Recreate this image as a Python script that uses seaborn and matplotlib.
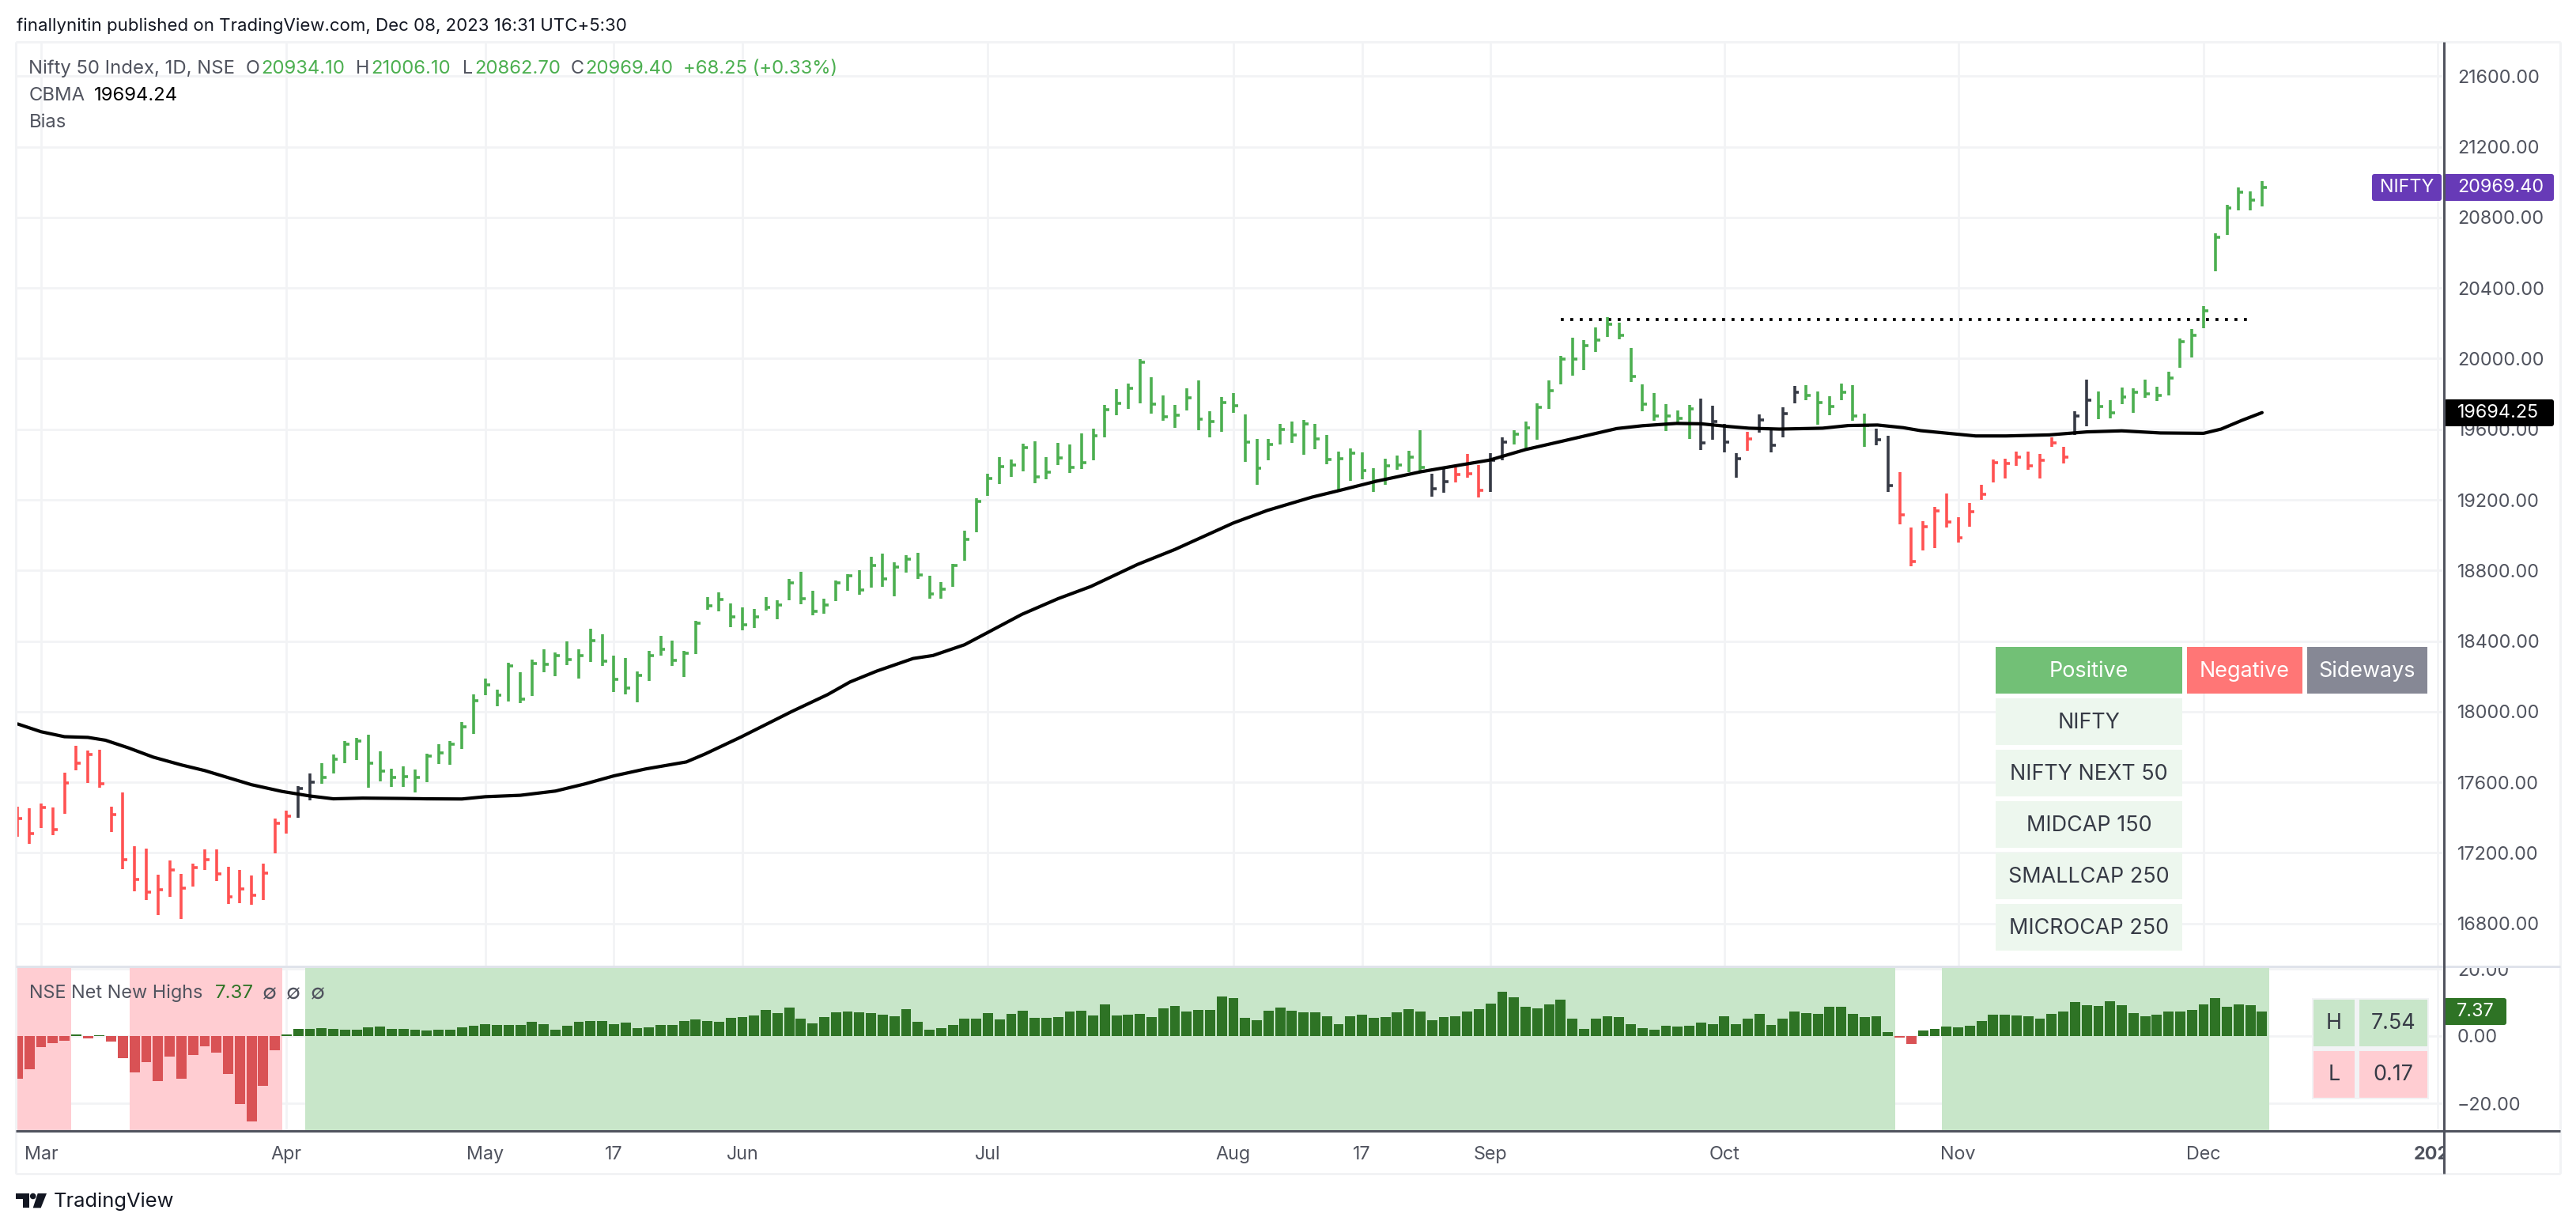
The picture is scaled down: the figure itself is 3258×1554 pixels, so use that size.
import matplotlib
matplotlib.use("Agg")
import matplotlib.pyplot as plt
from matplotlib.patches import Rectangle, FancyBboxPatch, Polygon, Circle
from matplotlib.transforms import Bbox
import numpy as np
import pandas as pd
import seaborn as sns

high = [
    17460, 17452, 17478, 17456, 17656, 17808, 17778, 17782, 17460, 17540,
    17238, 17224, 17078, 17158, 17082, 17140, 17220, 17220, 17122, 17104,
    17072, 17140, 17394, 17438, 17578, 17648, 17706, 17758, 17832, 17852,
    17870, 17776, 17676, 17692, 17674, 17762, 17816, 17832, 17940, 18096,
    18186, 18124, 18278, 18225, 18296, 18354, 18335, 18400, 18351, 18468,
    18440, 18319, 18305, 18228, 18345, 18431, 18404, 18344, 18514, 18651,
    18674, 18615, 18589, 18583, 18651, 18633, 18750, 18791, 18686, 18642,
    18741, 18780, 18803, 18876, 18894, 18848, 18885, 18898, 18768, 18732,
    18839, 19024, 19207, 19350, 19441, 19427, 19517, 19531, 19441, 19522,
    19513, 19576, 19603, 19738, 19828, 19859, 19999, 19895, 19792, 19738,
    19832, 19877, 19702, 19783, 19805, 19684, 19544, 19544, 19630, 19643,
    19652, 19630, 19567, 19472, 19490, 19468, 19378, 19432, 19450, 19477,
    19594, 19346, 19373, 19384, 19459, 19396, 19463, 19553, 19594, 19643,
    19747, 19877, 20017, 20120, 20107, 20179, 20233, 20206, 20062, 19855,
    19805, 19742, 19706, 19738, 19774, 19733, 19630, 19463, 19585, 19684,
    19598, 19724, 19846, 19850, 19814, 19787, 19859, 19850, 19688, 19603,
    19562, 19355, 19045, 19081, 19162, 19238, 19103, 19180, 19283, 19427,
    19432, 19472, 19472, 19459, 19553, 19499, 19702, 19882, 19814, 19765,
    19837, 19832, 19882, 19841, 19927, 20116, 20170, 20300, 20709, 20871,
    20970, 20947, 21006.1,
]
low = [
    17292, 17250, 17340, 17300, 17420, 17666, 17594, 17568, 17318, 17108,
    16984, 16934, 16846, 16952, 16824, 17010, 17104, 17042, 16912, 16916,
    16908, 16934, 17198, 17308, 17400, 17498, 17590, 17648, 17710, 17724,
    17568, 17604, 17572, 17572, 17544, 17602, 17702, 17700, 17790, 17874,
    18092, 18030, 18058, 18047, 18090, 18221, 18203, 18262, 18186, 18280,
    18259, 18109, 18097, 18051, 18173, 18317, 18259, 18195, 18326, 18576,
    18567, 18479, 18459, 18473, 18574, 18525, 18630, 18608, 18548, 18555,
    18626, 18683, 18661, 18701, 18709, 18653, 18786, 18750, 18638, 18638,
    18706, 18853, 19015, 19222, 19290, 19330, 19361, 19294, 19316, 19397,
    19352, 19375, 19424, 19555, 19681, 19717, 19748, 19690, 19649, 19609,
    19708, 19595, 19555, 19586, 19694, 19415, 19285, 19424, 19514, 19523,
    19456, 19487, 19402, 19249, 19307, 19316, 19244, 19285, 19370, 19357,
    19357, 19217, 19240, 19298, 19325, 19213, 19244, 19424, 19514, 19481,
    19541, 19717, 19856, 19904, 19936, 20036, 20122, 20108, 19870, 19703,
    19649, 19591, 19625, 19544, 19481, 19541, 19468, 19324, 19477, 19582,
    19468, 19553, 19747, 19765, 19625, 19679, 19765, 19648, 19499, 19508,
    19247, 19063, 18824, 18914, 18928, 19045, 18959, 19049, 19198, 19297,
    19320, 19391, 19369, 19320, 19499, 19405, 19568, 19616, 19657, 19661,
    19742, 19693, 19778, 19760, 19792, 19949, 20008, 20174, 20497, 20700,
    20839, 20839, 20862.7,
]
close = [
    17396, 17310, 17458, 17330, 17594, 17710, 17758, 17590, 17416, 17162,
    17048, 16978, 16992, 17102, 16998, 17116, 17162, 17082, 16950, 16996,
    16960, 17086, 17366, 17406, 17564, 17600, 17628, 17732, 17816, 17832,
    17708, 17664, 17626, 17630, 17626, 17746, 17768, 17816, 17916, 18062,
    18152, 18094, 18257, 18069, 18271, 18269, 18319, 18296, 18317, 18402,
    18287, 18182, 18132, 18204, 18319, 18353, 18289, 18330, 18500, 18599,
    18637, 18535, 18491, 18535, 18592, 18603, 18729, 18640, 18567, 18603,
    18731, 18770, 18690, 18828, 18754, 18819, 18862, 18775, 18669, 18695,
    18828, 18976, 19190, 19321, 19389, 19397, 19496, 19329, 19357, 19438,
    19385, 19411, 19564, 19712, 19748, 19832, 19982, 19744, 19672, 19681,
    19780, 19657, 19645, 19753, 19735, 19526, 19379, 19514, 19597, 19568,
    19631, 19543, 19429, 19433, 19463, 19366, 19307, 19393, 19397, 19442,
    19384, 19262, 19303, 19343, 19348, 19253, 19424, 19528, 19573, 19609,
    19726, 19820, 19996, 19996, 20074, 20104, 20194, 20134, 19901, 19744,
    19676, 19676, 19663, 19717, 19522, 19642, 19526, 19432, 19544, 19652,
    19510, 19688, 19810, 19793, 19751, 19729, 19810, 19675, 19621, 19541,
    19279, 19117, 18851, 19046, 19139, 19076, 18986, 19132, 19230, 19409,
    19405, 19441, 19391, 19423, 19522, 19441, 19675, 19766, 19729, 19693,
    19783, 19810, 19801, 19793, 19892, 20098, 20134, 20269, 20686, 20854,
    20941, 20899, 20969.4,
]

# colour runs of the price bars, in bar order
state_names = ["red", "dark", "green", "dark", "red", "dark", "green", "dark",
               "red", "dark", "green", "dark", "red", "dark", "green"]
state_counts = [24, 2, 95, 2, 3, 2, 16, 4, 1, 4, 6, 2, 15, 2, 15]

cbma_x = [0, 2, 4, 6, 7.5, 9.5, 11.6, 14, 16, 18, 20, 22.6, 25, 27, 29.5, 33, 35,
          38, 40, 43, 46, 48.5, 51, 53.7, 57.2, 58.8, 61.9, 66.2, 69.3, 71.2,
          73.5, 76.6, 78.3, 81, 83, 85.9, 89, 91.8, 95.8, 99, 102, 104, 106.9,
          110.7, 113, 116.2, 120.1, 123.2, 125.9, 129, 132.1, 136.8, 139, 141.9,
          144, 146.3, 148.1, 150.7, 154.4, 156.6, 159.1, 161.3, 162.8, 167.5,
          170.1, 173.8, 177, 180, 183.3, 187, 188.5, 190.3, 192]
cbma_y = [17930, 17886, 17858, 17854, 17838, 17794, 17742, 17698, 17666, 17626,
          17586, 17548, 17522, 17506, 17510, 17508, 17506, 17505, 17518, 17526,
          17550, 17590, 17636, 17675, 17715, 17760, 17857, 18000, 18097, 18168,
          18230, 18301, 18318, 18379, 18449, 18551, 18640, 18709, 18834, 18919,
          19009, 19069, 19140, 19215, 19252, 19305, 19360, 19395, 19425, 19485,
          19532, 19604, 19620, 19633, 19631, 19616, 19606, 19601, 19606, 19621,
          19624, 19609, 19592, 19562, 19562, 19568, 19585, 19591, 19579, 19577,
          19601, 19651, 19694.25]

net_highs = [
    -12.6, -9.9, -3.4, -2.2, -1.3, 0.5, -0.7, 0.3, -1.7, -6.7,
    -10.9, -7.8, -13.4, -6.1, -12.8, -5.7, -3.1, -5.0, -11.3, -20.3,
    -25.3, -14.9, -4.3, 0.4, 2.1, 2.2, 2.4, 2.2, 2.0, 2.0,
    2.6, 2.9, 2.1, 2.1, 1.9, 1.7, 1.8, 2.0, 2.6, 3.1,
    3.6, 3.4, 3.3, 3.3, 4.2, 3.6, 1.9, 3.1, 4.2, 4.5,
    4.5, 3.6, 4.0, 2.4, 2.6, 3.3, 3.3, 4.5, 4.9, 4.5,
    4.2, 5.4, 5.6, 6.1, 7.8, 6.8, 8.5, 5.2, 3.8, 5.6,
    7.1, 7.3, 7.1, 6.8, 6.4, 5.9, 8.0, 4.2, 1.9, 2.4,
    3.3, 5.2, 5.2, 6.8, 4.9, 6.6, 7.5, 5.4, 5.4, 5.6,
    7.3, 7.5, 6.1, 9.4, 6.1, 6.4, 6.6, 5.6, 8.2, 8.9,
    7.3, 7.8, 7.8, 11.8, 11.3, 5.4, 4.7, 7.5, 8.5, 7.5,
    7.1, 7.1, 5.9, 3.5, 5.9, 6.4, 5.4, 5.6, 7.1, 8.0,
    7.3, 4.7, 5.6, 5.9, 7.3, 8.0, 9.6, 13.2, 11.5, 8.7,
    8.2, 9.4, 10.8, 5.2, 2.1, 5.2, 5.9, 5.6, 3.5, 2.4,
    1.9, 3.1, 2.8, 3.1, 4.0, 3.5, 5.9, 3.5, 5.2, 6.6,
    3.3, 5.2, 7.3, 6.8, 6.6, 8.7, 8.7, 6.6, 5.6, 5.9,
    1.2, -0.5, -2.3, 1.6, 2.1, 2.8, 2.6, 3.1, 4.5, 6.4,
    6.4, 6.1, 5.9, 5.1, 6.6, 7.3, 10.1, 9.2, 8.9, 10.4,
    9.2, 6.8, 5.9, 6.4, 7.3, 7.3, 7.8, 9.5, 11.3, 8.7,
    9.5, 9.2, 7.37,
]

# background regions of the lower pane (first bar, last bar, colour)
region_start = [0, 10, 25, 165]
region_end = [4, 22, 160, 192]
region_color = ["#FFCDD2", "#FFCDD2", "#C8E6C9", "#C8E6C9"]

level_price = 20224
level_start = 132
level_end = 190.8

time_ticks = [2, 23, 40, 51, 62, 83, 104, 115, 126, 146, 166, 187, 207]
time_labels = ["Mar", "Apr", "May", "17", "Jun", "Jul", "Aug", "17", "Sep", "Oct",
               "Nov", "Dec", "2024"]
price_ticks = [16800, 17200, 17600, 18000, 18400, 18800, 19200, 19600, 20000,
               20400, 20800, 21200, 21600]
sub_ticks = [-20, 0, 20]
index_rows = ["NIFTY", "NIFTY NEXT 50", "MIDCAP 150", "SMALLCAP 250", "MICROCAP 250"]

W, H = 3258, 1554
GRID = "#F2F3F5"
TEXT = "#50535E"
BLACK = "#131722"
COLORS = {"red": "#FF5252", "dark": "#363A45", "green": "#4CAF50"}
FS = 16.8
TABLE_FS = 19.4

sns.set_style("white")
plt.rcParams['font.family'] = ['Inter', 'DejaVu Sans']


def px_axes(fig, left, top, right, bottom):
    return fig.add_axes([left / W, 1 - bottom / H, (right - left) / W, (bottom - top) / H])


def price_at(y):
    return 21200 - (y - 185.7) / 0.22316


def sub_at(y):
    return (1310 - y) / 4.25


def bar_at(x):
    return (x - 22.4) / 14.784


fig = plt.figure(figsize=(W / 100, H / 100), dpi=100, facecolor="white")

# price pane
ax = px_axes(fig, 20, 53, 3091, 1222)
bars = pd.DataFrame({"high": high, "low": low, "close": close})
bars["x"] = bars.index
bars["color"] = [COLORS[n] for n, c in zip(state_names, state_counts) for _ in range(c)]

ax.plot([level_start, level_end], [level_price, level_price], color="black", lw=2.7,
        linestyle=(0, (1, 2.2)), dash_capstyle="butt", zorder=1.5)
ax.vlines(bars["x"], bars["low"], bars["high"], colors=bars["color"], lw=2.6, zorder=2)
ax.hlines(bars["close"], bars["x"], bars["x"] + 0.4, colors=bars["color"], lw=2.6, zorder=2)
sns.lineplot(x=cbma_x, y=cbma_y, color="black", lw=3.0, sort=False, errorbar=None, ax=ax,
             zorder=3)

ax.set_xlim(bar_at(20), bar_at(3091))
ax.set_ylim(price_at(1222), price_at(53))
ax.set_xticks(time_ticks)
ax.set_xticklabels([])
ax.set_yticks(price_ticks)
ax.set_yticklabels([f"{p:.2f}" for p in price_ticks])
ax.yaxis.tick_right()
ax.tick_params(axis="y", length=0, pad=12.2, labelsize=FS, labelcolor=TEXT)
ax.tick_params(axis="x", length=0)
ax.grid(True, color=GRID, lw=2)
ax.set_axisbelow(True)
ax.set_xlabel("")
ax.set_ylabel("")
sns.despine(ax=ax, left=True, bottom=True, right=True, top=True)

# net new highs pane
sub = px_axes(fig, 20, 1222, 3091, 1430)
highs = pd.DataFrame({"x": range(len(net_highs)), "value": net_highs})
highs["sign"] = np.where(highs["value"] > 0, "up", "down")
sns.barplot(data=highs, x="x", y="value", hue="sign", native_scale=True, dodge=False,
            palette={"up": "#2E7325", "down": "#D95255"}, width=0.87, saturation=1,
            linewidth=0, legend=False, ax=sub, zorder=2)
for start, end, color in zip(region_start, region_end, region_color):
    sub.axvspan(start - 0.4, end + 0.6, color=color, lw=0, zorder=0.6)

sub.set_xlim(bar_at(20), bar_at(3091))
sub.set_ylim(sub_at(1430), sub_at(1222))
sub.set_xticks(time_ticks)
sub.set_xticklabels(time_labels)
sub.set_yticks(sub_ticks)
sub.set_yticklabels([f"{v:.2f}".replace("-", "\u2212") for v in sub_ticks])
sub.yaxis.tick_right()
sub.tick_params(axis="y", length=0, pad=12.2, labelsize=FS, labelcolor=TEXT)
sub.tick_params(axis="x", length=0, pad=13.5, labelsize=FS, labelcolor=TEXT)
sub.grid(True, color=GRID, lw=2)
sub.set_axisbelow(True)
sub.set_xlabel("")
sub.set_ylabel("")
sns.despine(ax=sub, left=True, bottom=True, right=True, top=True)

# labels cut off by the pane edges, as on the published chart
for label_ in sub.get_yticklabels():
    label_.set_clip_box(Bbox([[3091, H - 1430], [3238, H - 1224]]))
    label_.set_clip_on(True)
year_label = sub.get_xticklabels()[-1]
year_label.set_fontweight("bold")
year_label.set_clip_box(Bbox([[20, 0], [3090, H]]))
year_label.set_clip_on(True)

# frame, tags, tables and header text, laid out in pixels
ov = fig.add_axes([0, 0, 1, 1], zorder=10)
ov.set_xlim(0, W)
ov.set_ylim(H, 0)
ov.axis("off")


def line(x0, y0, x1, y1, color, px):
    ov.plot([x0, x1], [y0, y1], color=color, lw=px * 0.72, solid_capstyle="butt")


def box(x0, y0, x1, y1, color):
    ov.add_patch(Rectangle((x0, y0), x1 - x0, y1 - y0, facecolor=color, edgecolor="none"))


def tag(x0, y0, x1, y1, color):
    ov.add_patch(FancyBboxPatch((x0, y0), x1 - x0, y1 - y0, boxstyle="round,pad=0,rounding_size=3",
                                facecolor=color, edgecolor="none"))


def label(x, y, s, color=TEXT, ha="left", size=FS, **kw):
    ov.text(x, y, s, color=color, ha=ha, va="center", fontsize=size, **kw)


line(20, 53, 3238, 53, GRID, 3)
line(20, 53, 20, 1484, GRID, 3)
line(3238, 53, 3238, 1484, GRID, 3)
line(20, 1484, 3238, 1484, GRID, 3)
line(20, 1222, 3238, 1222, "#E0E3EB", 3)
line(20, 1430, 3238, 1430, TEXT, 3)
line(3091, 53, 3091, 1484, TEXT, 3)

tag(3000, 220, 3088, 254, "#673AB7")
tag(3091, 220, 3230, 254, "#673AB7")
label(3044, 237, "NIFTY", color="white", ha="center")
label(3108, 237, f"{close[-1]:.2f}", color="white")
tag(3091, 505, 3230, 539, "black")
label(3108, 522, f"{cbma_y[-1]:.2f}", color="white")
tag(3091, 1262, 3170, 1296, "#2E7325")
label(3107, 1279, f"{net_highs[-1]:.2f}", color="white")

box(2524, 818, 2760, 877, "#72C076")
box(2766, 818, 2912, 877, "#FF7676")
box(2918, 818, 3070, 877, "#868895")
label(2642, 849, "Positive", color="white", ha="center", size=TABLE_FS)
label(2839, 849, "Negative", color="white", ha="center", size=TABLE_FS)
label(2994, 849, "Sideways", color="white", ha="center", size=TABLE_FS)
for i, name in enumerate(index_rows):
    top = 883 + i * 65
    box(2524, top, 2760, top + 59, "#EDF7EE")
    label(2642, top + 31, name, color="#363A45", ha="center", size=TABLE_FS)

box(2924, 1262, 3072, 1390, GRID)
box(2926, 1264, 2978, 1323, "#C8E6C9")
box(2984, 1264, 3070, 1323, "#C8E6C9")
box(2926, 1329, 2978, 1388, "#FFCDD2")
box(2984, 1329, 3070, 1388, "#FFCDD2")
label(2952, 1294, "H", color="#363A45", ha="center", size=TABLE_FS)
label(3027, 1294, "7.54", color="#363A45", ha="center", size=TABLE_FS)
label(2952, 1359, "L", color="#363A45", ha="center", size=TABLE_FS)
label(3027, 1359, "0.17", color="#363A45", ha="center", size=TABLE_FS)

label(21, 33, "finallynitin published on TradingView.com, Dec 08, 2023 16:31 UTC+5:30",
      color=BLACK, size=16.0)
label(36.5, 87, "Nifty 50 Index, 1D, NSE", size=17.2)
label(311, 87, "O")
label(330, 87, "20934.10", color=COLORS["green"], size=17.2)
label(450.5, 87, "H")
label(469, 87, "21006.10", color=COLORS["green"], size=17.2)
label(585, 87, "L")
label(600, 87, "20862.70", color=COLORS["green"], size=17.2)
label(722, 87, "C")
label(740, 87, "20969.40", color=COLORS["green"], size=17.2)
label(864, 87, "+68.25 (+0.33%)", color=COLORS["green"], size=17.2)
label(36.5, 121, "CBMA", size=17.2)
label(119, 121, "19694.24", color="black", size=17.2)
label(36.5, 155, "Bias", size=17.2)

label(36.7, 1256, "NSE Net New Highs", size=16.9)
label(272, 1256, "7.37", color="#2E7325", size=17.4)
label(341, 1256, "\u2205", ha="center", size=19)
label(371, 1256, "\u2205", ha="center", size=19)
label(402, 1256, "\u2205", ha="center", size=19)

# TradingView mark
box(20, 1509, 36.7, 1516, BLACK)
box(29.3, 1509, 36.7, 1527.3, BLACK)
ov.add_patch(Circle((41.7, 1512.5), 3.8, facecolor=BLACK, edgecolor="none"))
ov.add_patch(Polygon([(47.7, 1509), (59, 1509), (51.7, 1527.3), (41.7, 1527.3)],
                     facecolor=BLACK, edgecolor="none"))
label(68, 1519, "TradingView", color=BLACK, size=18.4)

fig.savefig("out.png", dpi=100, facecolor="white")
